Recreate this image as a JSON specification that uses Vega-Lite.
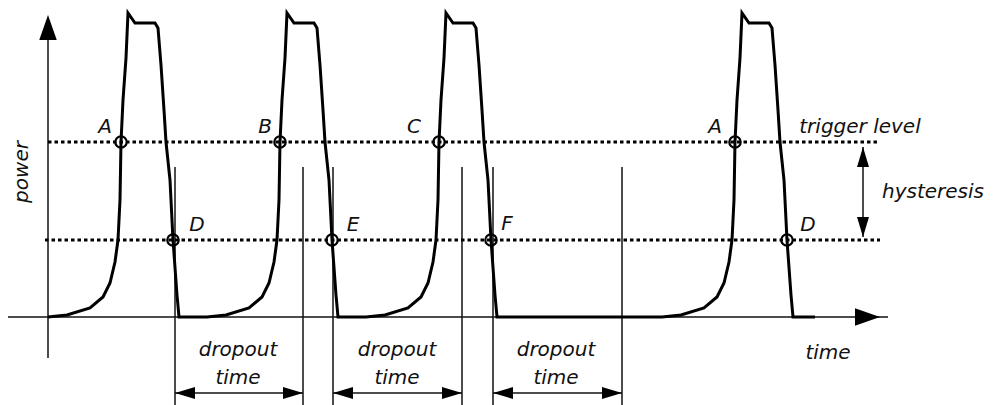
{
  "$schema": "https://vega.github.io/schema/vega-lite/v6.json",
  "width": 995,
  "height": 405,
  "autosize": "none",
  "padding": 0,
  "background": "white",
  "config": {"view": {"stroke": null}},
  "datasets": {
    "wave": [
      {"i":1,"t":0,"p":0},{"i":2,"t":19,"p":2},{"i":3,"t":42,"p":9},{"i":4,"t":55,"p":20},{"i":5,"t":62,"p":34},{"i":6,"t":67,"p":55},{"i":7,"t":70,"p":77},{"i":8,"t":72,"p":117},{"i":9,"t":73,"p":175},{"i":10,"t":75,"p":217},{"i":11,"t":78,"p":259},{"i":12,"t":80,"p":304},{"i":13,"t":87,"p":294},{"i":14,"t":107,"p":294},{"i":15,"t":110,"p":289},{"i":16,"t":113,"p":252},{"i":17,"t":116,"p":207},{"i":18,"t":118,"p":175},{"i":19,"t":122,"p":137},{"i":20,"t":125,"p":77},{"i":21,"t":129,"p":22},{"i":22,"t":131,"p":0},
      {"i":23,"t":159,"p":0},{"i":24,"t":178,"p":2},{"i":25,"t":201,"p":9},{"i":26,"t":214,"p":20},{"i":27,"t":221,"p":34},{"i":28,"t":226,"p":55},{"i":29,"t":229,"p":77},{"i":30,"t":231,"p":117},{"i":31,"t":232,"p":175},{"i":32,"t":234,"p":217},{"i":33,"t":237,"p":259},{"i":34,"t":239,"p":304},{"i":35,"t":246,"p":294},{"i":36,"t":266,"p":294},{"i":37,"t":269,"p":289},{"i":38,"t":272,"p":252},{"i":39,"t":275,"p":207},{"i":40,"t":277,"p":175},{"i":41,"t":281,"p":137},{"i":42,"t":284,"p":77},{"i":43,"t":288,"p":22},{"i":44,"t":290,"p":0},
      {"i":45,"t":318,"p":0},{"i":46,"t":337,"p":2},{"i":47,"t":360,"p":9},{"i":48,"t":373,"p":20},{"i":49,"t":380,"p":34},{"i":50,"t":385,"p":55},{"i":51,"t":388,"p":77},{"i":52,"t":390,"p":117},{"i":53,"t":391,"p":175},{"i":54,"t":393,"p":217},{"i":55,"t":396,"p":259},{"i":56,"t":398,"p":304},{"i":57,"t":405,"p":294},{"i":58,"t":425,"p":294},{"i":59,"t":428,"p":289},{"i":60,"t":431,"p":252},{"i":61,"t":434,"p":207},{"i":62,"t":436,"p":175},{"i":63,"t":440,"p":137},{"i":64,"t":443,"p":77},{"i":65,"t":447,"p":22},{"i":66,"t":449,"p":0},
      {"i":67,"t":614,"p":0},{"i":68,"t":633,"p":2},{"i":69,"t":656,"p":9},{"i":70,"t":669,"p":20},{"i":71,"t":676,"p":34},{"i":72,"t":681,"p":55},{"i":73,"t":684,"p":77},{"i":74,"t":686,"p":117},{"i":75,"t":687,"p":175},{"i":76,"t":689,"p":217},{"i":77,"t":692,"p":259},{"i":78,"t":694,"p":304},{"i":79,"t":701,"p":294},{"i":80,"t":721,"p":294},{"i":81,"t":724,"p":289},{"i":82,"t":727,"p":252},{"i":83,"t":730,"p":207},{"i":84,"t":732,"p":175},{"i":85,"t":736,"p":137},{"i":86,"t":739,"p":77},{"i":87,"t":743,"p":22},{"i":88,"t":745,"p":0},{"i":89,"t":767,"p":0}
    ],
    "thin": [
      {"name":"time axis","t":-40,"t2":840,"p":0,"p2":0},
      {"name":"power axis","t":0,"t2":0,"p":-41,"p2":290},
      {"name":"mark1","t":127,"t2":127,"p":-88,"p2":150},
      {"name":"mark2","t":255,"t2":255,"p":-88,"p2":150},
      {"name":"mark3","t":285,"t2":285,"p":-88,"p2":150},
      {"name":"mark4","t":414,"t2":414,"p":-88,"p2":150},
      {"name":"mark5","t":445,"t2":445,"p":-88,"p2":150},
      {"name":"mark6","t":574,"t2":574,"p":-88,"p2":150},
      {"name":"hysteresis","t":815,"t2":815,"p":80,"p2":170},
      {"name":"dropout1","t":127,"t2":255,"p":-76,"p2":-76},
      {"name":"dropout2","t":285,"t2":414,"p":-76,"p2":-76},
      {"name":"dropout3","t":445,"t2":574,"p":-76,"p2":-76}
    ],
    "levels": [
      {"name":"trigger","t":0,"t2":832,"p":175,"p2":175},
      {"name":"release","t":-3,"t2":832,"p":77,"p2":77}
    ],
    "circles": [
      {"label":"A","t":73,"p":175},{"label":"B","t":232,"p":175},{"label":"C","t":391,"p":175},{"label":"A","t":687,"p":175},
      {"label":"D","t":125,"p":77},{"label":"E","t":284,"p":77},{"label":"F","t":443,"p":77},{"label":"D","t":739,"p":77}
    ],
    "arrows": [
      {"kind":"axis","deg":270,"t":0,"p":302},
      {"kind":"axis","deg":0,"t":832,"p":0},
      {"kind":"dim","deg":270,"t":815,"p":170},
      {"kind":"dim","deg":90,"t":815,"p":80},
      {"kind":"dim","deg":180,"t":127,"p":-76},
      {"kind":"dim","deg":0,"t":255,"p":-76},
      {"kind":"dim","deg":180,"t":285,"p":-76},
      {"kind":"dim","deg":0,"t":414,"p":-76},
      {"kind":"dim","deg":180,"t":445,"p":-76},
      {"kind":"dim","deg":0,"t":574,"p":-76}
    ],
    "labels": [
      {"text":"A","t":57,"p":190},{"text":"B","t":217,"p":190},{"text":"C","t":366,"p":190},{"text":"A","t":667,"p":190},
      {"text":"D","t":149,"p":92},{"text":"E","t":305,"p":92},{"text":"F","t":459,"p":93},{"text":"D","t":760,"p":92},
      {"text":"trigger level","t":812,"p":190},
      {"text":"hysteresis","t":885,"p":125},
      {"text":"dropout","t":190,"p":-33},{"text":"time","t":190,"p":-61},
      {"text":"dropout","t":349,"p":-33},{"text":"time","t":349,"p":-61},
      {"text":"dropout","t":508,"p":-33},{"text":"time","t":508,"p":-61},
      {"text":"time","t":780,"p":-36}
    ],
    "vlabels": [
      {"text":"power","t":-26,"p":145}
    ]
  },
  "layer": [
    {
      "data": {"name": "thin"},
      "mark": {"type": "rule", "stroke": "#111", "strokeWidth": 1.5},
      "encoding": {
        "x": {"field": "t", "type": "quantitative", "scale": {"domain": [-48, 947], "nice": false, "zero": false}, "axis": null},
        "x2": {"field": "t2"},
        "y": {"field": "p", "type": "quantitative", "scale": {"domain": [-88, 317], "nice": false, "zero": false}, "axis": null},
        "y2": {"field": "p2"}
      }
    },
    {
      "data": {"name": "levels"},
      "mark": {"type": "rule", "stroke": "black", "strokeWidth": 3, "strokeDash": [3.5, 3]},
      "encoding": {
        "x": {"field": "t", "type": "quantitative"},
        "x2": {"field": "t2"},
        "y": {"field": "p", "type": "quantitative"},
        "y2": {"field": "p2"}
      }
    },
    {
      "data": {"name": "wave"},
      "mark": {"type": "line", "stroke": "black", "strokeWidth": 3, "strokeJoin": "miter", "interpolate": "linear"},
      "encoding": {
        "x": {"field": "t", "type": "quantitative"},
        "y": {"field": "p", "type": "quantitative"},
        "order": {"field": "i", "type": "quantitative"}
      }
    },
    {
      "data": {"name": "circles"},
      "mark": {"type": "point", "shape": "circle", "filled": false, "stroke": "black", "strokeWidth": 2.2, "size": 130, "opacity": 1},
      "encoding": {
        "x": {"field": "t", "type": "quantitative"},
        "y": {"field": "p", "type": "quantitative"}
      }
    },
    {
      "data": {"name": "arrows"},
      "transform": [{"filter": "datum.kind === 'axis'"}],
      "mark": {"type": "point", "shape": "M0,0L-2,-0.7L-2,0.7Z", "filled": true, "fill": "black", "stroke": null, "size": 625, "opacity": 1},
      "encoding": {
        "x": {"field": "t", "type": "quantitative"},
        "y": {"field": "p", "type": "quantitative"},
        "angle": {"field": "deg", "type": "quantitative", "scale": null}
      }
    },
    {
      "data": {"name": "arrows"},
      "transform": [{"filter": "datum.kind === 'dim'"}],
      "mark": {"type": "point", "shape": "M0,0L-2,-0.6L-2,0.6Z", "filled": true, "fill": "black", "stroke": null, "size": 400, "opacity": 1},
      "encoding": {
        "x": {"field": "t", "type": "quantitative"},
        "y": {"field": "p", "type": "quantitative"},
        "angle": {"field": "deg", "type": "quantitative", "scale": null}
      }
    },
    {
      "data": {"name": "labels"},
      "mark": {"type": "text", "font": "DejaVu Sans", "fontStyle": "italic", "fontSize": 20, "fill": "#111", "align": "center", "baseline": "middle"},
      "encoding": {
        "x": {"field": "t", "type": "quantitative"},
        "y": {"field": "p", "type": "quantitative"},
        "text": {"field": "text", "type": "nominal"}
      }
    },
    {
      "data": {"name": "vlabels"},
      "mark": {"type": "text", "font": "DejaVu Sans", "fontStyle": "italic", "fontSize": 20, "fill": "#111", "align": "center", "baseline": "middle", "angle": 270},
      "encoding": {
        "x": {"field": "t", "type": "quantitative"},
        "y": {"field": "p", "type": "quantitative"},
        "text": {"field": "text", "type": "nominal"}
      }
    }
  ]
}
